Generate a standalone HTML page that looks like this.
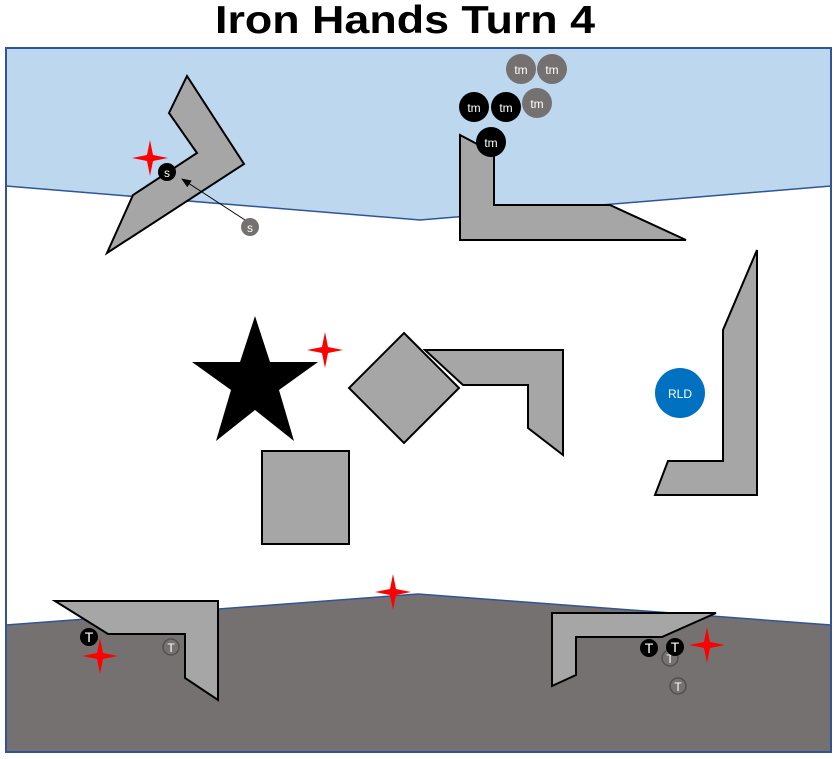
<!DOCTYPE html>
<html><head><style>body{margin:0;background:#fff}svg{display:block}</style></head><body>
<svg width="838" height="759" viewBox="0 0 838 759" xmlns="http://www.w3.org/2000/svg" font-family="Liberation Sans, sans-serif">
<defs>
<g id="rs"><polygon points="0,-18 3,-3 18,0 3,3 0,18 -3,3 -18,0 -3,-3" fill="#ff0000"/></g>
<marker id="ah" markerWidth="10" markerHeight="8" refX="9" refY="4" orient="auto" markerUnits="userSpaceOnUse"><polygon points="0,0 10,4 0,8" fill="#000"/></marker>
</defs>
<text x="215" y="33" font-size="39" font-weight="bold" fill="#000" textLength="380" lengthAdjust="spacingAndGlyphs">Iron Hands Turn 4</text>
<rect x="6" y="48" width="825" height="704" fill="#fff"/>
<polygon points="6,48 831,48 831,186 420,220 6,186" fill="#bdd7ee"/>
<polyline points="6,186 420,220 831,186" fill="none" stroke="#2f5597" stroke-width="1.5"/>
<polygon points="6,625 418,594 831,625 831,752 6,752" fill="#767171"/>
<polyline points="6,625 418,594 831,625" fill="none" stroke="#2f5597" stroke-width="1.5"/>
<rect x="6" y="48" width="825" height="704" fill="none" stroke="#2f5597" stroke-width="2"/>
<g fill="#a6a6a6" stroke="#000" stroke-width="2">
<polygon points="187,76 244,164 107,253 133,195 197,153 169,113"/>
<polygon points="460,135 494,153 494,205 610,205 686,240 460,240"/>
<polygon points="425,350 563,350 563,455 528,428 528,385 463,385"/>
<polygon points="404,333 459,388 404,443 349,388"/>
<rect x="262" y="451" width="87" height="93"/>
<polygon points="757,250 757,495 655,495 668,461 723,461 723,330"/>
<polygon points="55,601 218,601 218,700 185,678 185,634 108,634"/>
<polygon points="552,613 716,613 662,637 576,637 576,675 552,686"/>
</g>
<polygon points="255,316 270,362 318,362 279,390 294,441 255,410 216,441 231,390 192,362 240,362" fill="#000"/>
<use href="#rs" x="150" y="158"/><use href="#rs" x="325" y="350"/><use href="#rs" x="393" y="592"/><use href="#rs" x="100" y="656"/><use href="#rs" x="707" y="645"/>
<line x1="245" y1="220" x2="182" y2="179" stroke="#000" stroke-width="1" marker-end="url(#ah)"/>
<g font-size="12" text-anchor="middle" fill="#fff">
<circle cx="167" cy="172" r="9" fill="#000"/><text x="167" y="177">s</text>
<circle cx="250" cy="227" r="9" fill="#767171"/><text x="250" y="232">s</text>
<circle cx="521" cy="69" r="15" fill="#767171"/><text x="521" y="74">tm</text>
<circle cx="552" cy="69" r="15" fill="#767171"/><text x="552" y="74">tm</text>
<circle cx="537" cy="103" r="15" fill="#767171"/><text x="537" y="108">tm</text>
<circle cx="474" cy="107" r="15" fill="#000"/><text x="474" y="112">tm</text>
<circle cx="506" cy="107" r="15" fill="#000"/><text x="506" y="112">tm</text>
<circle cx="491" cy="142" r="15" fill="#000"/><text x="491" y="147">tm</text>
<circle cx="680" cy="393" r="25" fill="#0070c0"/><text x="680" y="398">RLD</text>
<circle cx="171" cy="647" r="8" fill="#767171" stroke="#505050" stroke-width="1.5"/><text x="171" y="652">T</text>
<circle cx="670" cy="658" r="8" fill="#767171" stroke="#505050" stroke-width="1.5"/><text x="670" y="663">T</text>
<circle cx="678" cy="686" r="8" fill="#767171" stroke="#505050" stroke-width="1.5"/><text x="678" y="691">T</text>
<circle cx="89" cy="637" r="9" fill="#000"/><text x="89" y="642" font-size="14">T</text>
<circle cx="649" cy="648" r="9" fill="#000"/><text x="649" y="653" font-size="14">T</text>
<circle cx="675" cy="647" r="9" fill="#000"/><text x="675" y="652" font-size="14">T</text>
</g>
</svg>
</body></html>
